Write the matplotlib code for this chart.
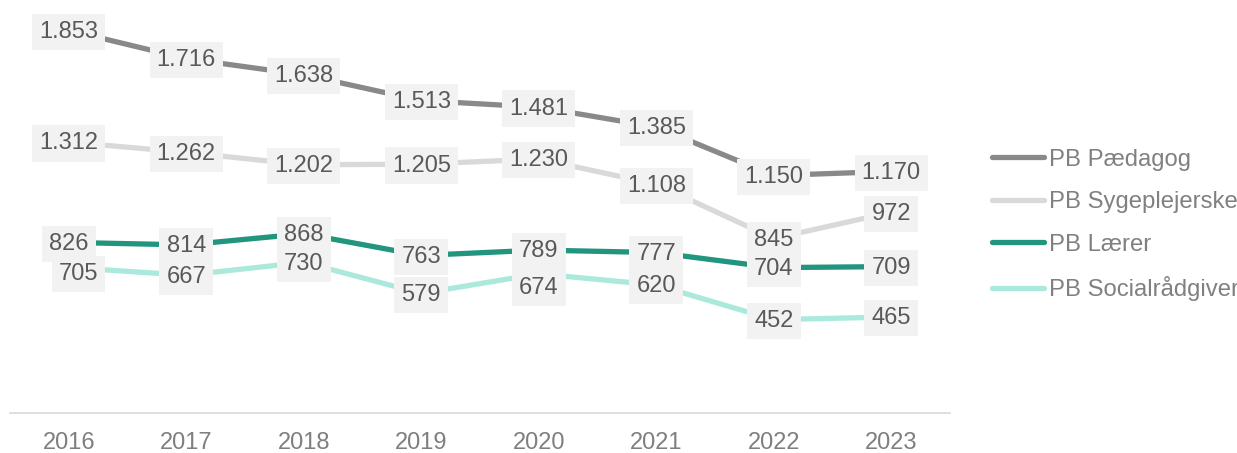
import matplotlib.pyplot as plt

plt.rcParams['font.family'] = ['Liberation Sans', 'DejaVu Sans']

years = ['2016', '2017', '2018', '2019', '2020', '2021', '2022', '2023']
paedagog = [1853, 1716, 1638, 1513, 1481, 1385, 1150, 1170]
sygepl = [1312, 1262, 1202, 1205, 1230, 1108, 845, 972]
laerer = [826, 814, 868, 763, 789, 777, 704, 709]
social = [705, 667, 730, 579, 674, 620, 452, 465]

series = [
    ('PB Pædagog', paedagog, '#898989'),
    ('PB Sygeplejerske', sygepl, '#d9d9d9'),
    ('PB Lærer', laerer, '#21957e'),
    ('PB Socialrådgiver', social, '#abe9dc'),
]

def fmt(v):
    return f'{v:,}'.replace(',', '.')

fig = plt.figure(figsize=(12.37, 4.53), dpi=100)
ax = fig.add_axes([10 / 1237, 40 / 453, 940 / 1237, 413 / 453])

x = list(range(len(years)))
for name, vals, col in series:
    ax.plot(x, vals, color=col, lw=3.8, label=name, solid_capstyle='round', zorder=2)

# nudges (points) where labels would collide
nudge = {('PB Socialrådgiver', 0): (7, -4),
         ('PB Socialrådgiver', 4): (0, -9)}

for name, vals, col in series:
    for i, v in enumerate(vals):
        dx, dy = nudge.get((name, i), (0, 0))
        ax.annotate(fmt(v), (i, v), xytext=(dx, dy - 1), textcoords='offset points',
                    ha='center', va='center', fontsize=17, color='#595959',
                    bbox=dict(boxstyle='square,pad=0.3', fc='#f2f2f2', ec='none'),
                    zorder=5)

ax.set_xlim(-0.5, 7.5)
ax.set_ylim(0, 2000)
ax.set_xticks(x)
ax.set_xticklabels(years, fontsize=17, color='#7f7f7f')
ax.tick_params(axis='x', length=0, pad=14)
ax.set_yticks([])
for s in ['top', 'right', 'left']:
    ax.spines[s].set_visible(False)
ax.spines['bottom'].set_color('#d9d9d9')
ax.spines['bottom'].set_linewidth(1.2)

leg = fig.legend(loc='center left', bbox_to_anchor=(982 / 1237, 1 - 225 / 453),
                 frameon=False, fontsize=17.2, handlelength=2.2,
                 handletextpad=0.2, labelspacing=0.86, borderaxespad=0)
for t in leg.get_texts():
    t.set_color('#808080')

fig.savefig('out.png', dpi=100)
